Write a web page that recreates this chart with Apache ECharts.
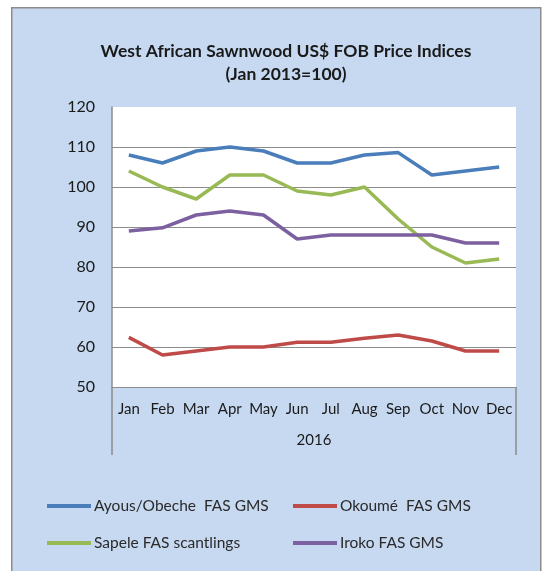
<!DOCTYPE html>
<html><head><meta charset="utf-8">
<script src="https://cdn.jsdelivr.net/npm/echarts@6/dist/echarts.min.js"></script>
<style>html,body{margin:0;padding:0;background:#fff}#c{width:547px;height:571px}</style>
</head><body><div id="c"></div>
<script>
const months = ['Jan','Feb','Mar','Apr','May','Jun','Jul','Aug','Sep','Oct','Nov','Dec'];
const yearLabel = ['2016'];
const ayous  = [108, 106, 109, 110, 109, 106, 106, 108, 108.6, 103, 104, 105];
const okoume = [62.4, 58, 59, 60, 60, 61.2, 61.2, 62.2, 63, 61.5, 59, 59];
const sapele = [104, 100, 97, 103, 103, 99, 98, 100, 92, 85, 81, 82];
const iroko  = [89, 89.8, 93, 94, 93, 87, 88, 88, 88, 88, 86, 86];
const names = ['Ayous/Obeche  FAS GMS','Okoumé  FAS GMS','Sapele FAS scantlings','Iroko FAS GMS'];
const colors = ['#4A7EBB','#BE4B48','#98B954','#7D60A0'];
const font = 'Lato, "Open Sans", sans-serif';
const txt = '#1a1a1a';

const chart = echarts.init(document.getElementById('c'));
chart.setOption({
  backgroundColor: '#fff',
  animation: false,
  textStyle: {fontFamily: font},
  graphic: [{
    type: 'rect', left: 11, top: 7, z: -10,
    shape: {width: 529, height: 580},
    style: {fill: '#C6D9F1', stroke: '#8c8c8c', lineWidth: 1.5}
  }],
  title: {
    text: 'West African Sawnwood US$ FOB Price Indices\n(Jan 2013=100)',
    left: 281, top: 35, textAlign: 'center',
    textStyle: {fontFamily: font, fontSize: 17.5, fontWeight: 'bold', color: txt, lineHeight: 23}
  },
  legend: [
    {data: [names[0], names[2]], orient: 'vertical', left: 47, top: 498, padding: 0, itemWidth: 44, itemHeight: 4, itemGap: 21,
     textStyle: {fontFamily: font, fontSize: 15.5, color: '#2a2a2a', padding: [0,0,0,-2]}, icon: 'rect'},
    {data: [names[1], names[3]], orient: 'vertical', left: 293, top: 498, padding: 0, itemWidth: 44, itemHeight: 4, itemGap: 21,
     textStyle: {fontFamily: font, fontSize: 15.5, color: '#2a2a2a', padding: [0,0,0,-2]}, icon: 'rect'}
  ],
  grid: {left: 112, right: 31, top: 107, bottom: 184, show: true, backgroundColor: '#fff', borderWidth: 0},
  xAxis: [
    {type: 'category', data: months, boundaryGap: true,
     axisLine: {show: true, lineStyle: {color: '#8c8c8c', width: 1}},
     axisTick: {show: false},
     axisLabel: {fontFamily: font, fontSize: 15, color: txt, margin: 15, interval: 0}},
    {type: 'category', data: yearLabel, boundaryGap: true, position: 'bottom',
     axisLine: {show: false},
     axisTick: {show: true, length: 68, lineStyle: {color: '#8c8c8c', width: 1.5}},
     axisLabel: {fontFamily: font, fontSize: 15, color: txt, margin: 46}}
  ],
  yAxis: {
    type: 'value', min: 50, max: 120, interval: 10,
    axisLine: {show: true, lineStyle: {color: '#8c8c8c', width: 1.5}},
    axisTick: {show: false},
    axisLabel: {fontFamily: font, fontSize: 16, color: txt, margin: 17},
    splitLine: {show: true, showMaxLine: false, lineStyle: {color: '#8c8c8c', width: 1}}
  },
  series: [ayous, okoume, sapele, iroko].map((d, i) => ({
    name: names[i], type: 'line', data: d, xAxisIndex: 0,
    showSymbol: false, symbol: 'none', smooth: false,
    lineStyle: {color: colors[i], width: 3.5},
    itemStyle: {color: colors[i]}
  }))
});
</script></body></html>
